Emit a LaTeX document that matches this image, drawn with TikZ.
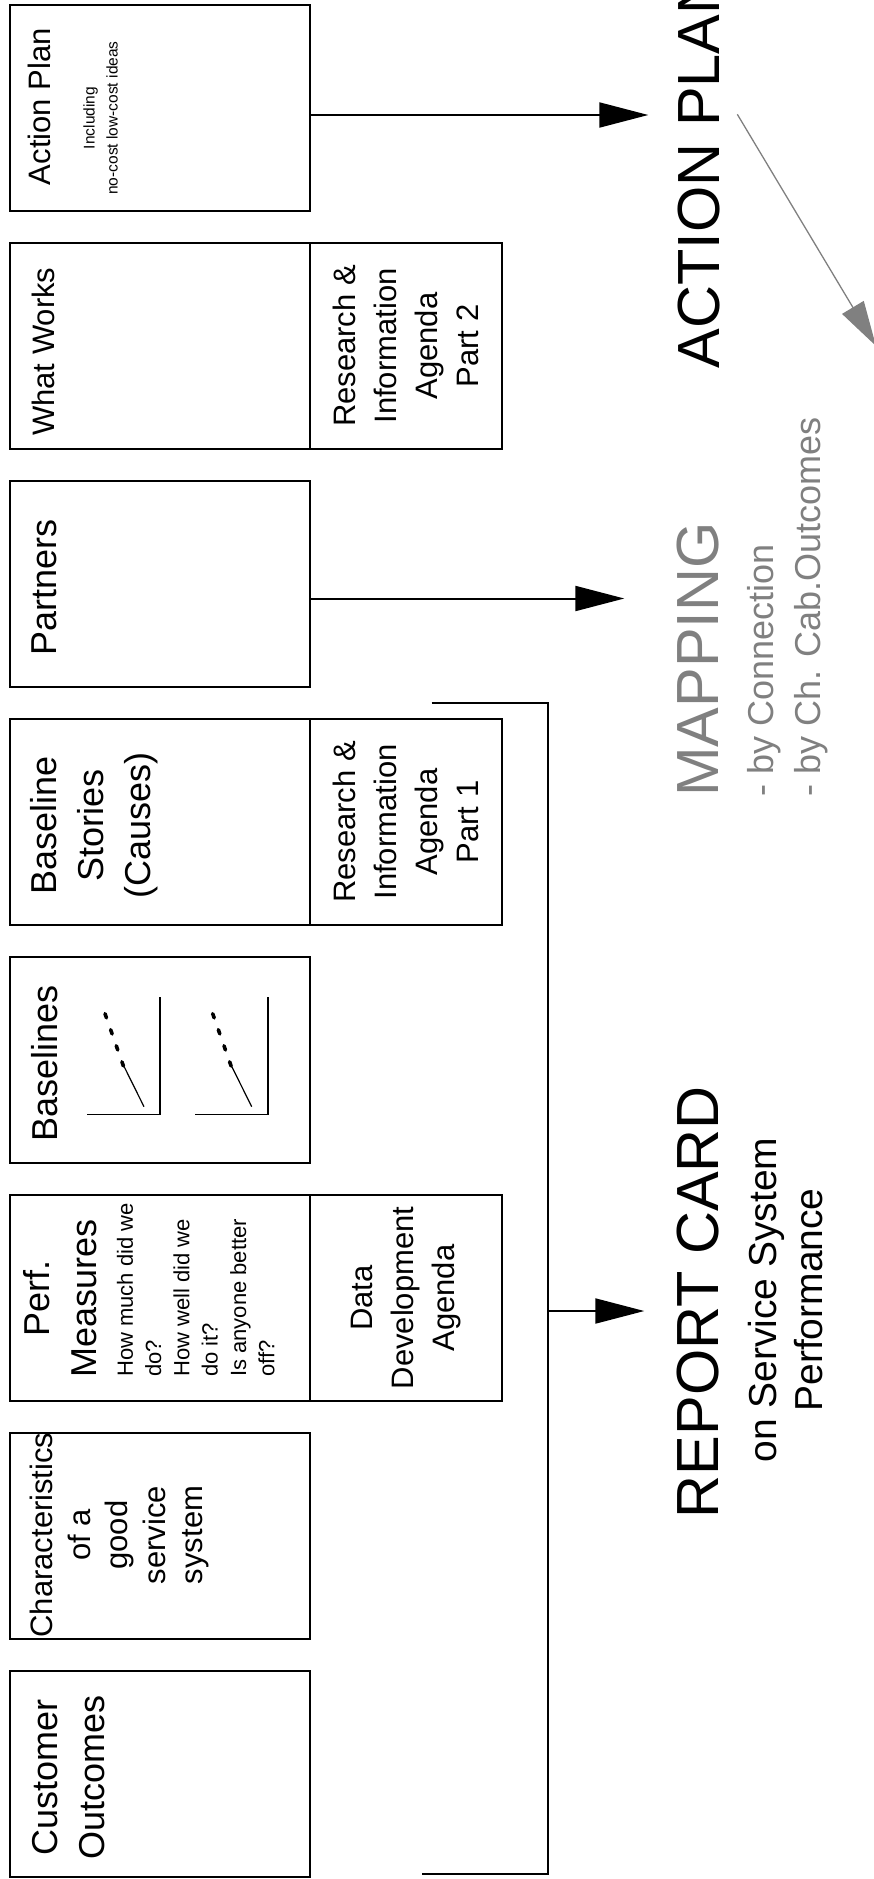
\documentclass[tikz,border=0pt]{standalone}
\usepackage{fontspec}
\setmainfont{Liberation Sans}
\usetikzlibrary{arrows.meta}

\tikzset{
  card/.style={draw, line width=2pt, minimum width=300pt, minimum height=206pt,
    inner sep=0pt, outer sep=0pt},
  agenda/.style={draw, line width=2pt, rotate=90, minimum width=206pt,
    minimum height=192pt, inner sep=0pt, outer sep=0pt, align=center,
    font=\fontsize{31}{41}\selectfont},
  head/.style={rotate=90, anchor=north, inner sep=0pt, align=center,
    font=\fontsize{36}{47}\selectfont},
  headsm/.style={head, font=\fontsize{31}{37.5}\selectfont},
  bigtitle/.style={rotate=90, inner sep=0pt, font=\fontsize{59.5}{70}\selectfont},
  link/.style={line width=2pt, -{Triangle[length=49pt,width=25pt]}},
}

\begin{document}
\begin{tikzpicture}[x=1pt,y=-1pt]

  \useasboundingbox (0,0) rectangle (874,1879);
  \clip (0,0) rectangle (874,1879);

  % Karten
  \node[card] (ap) at (160,108) {};
  \node[card] (ww) at (160,346) {};
  \node[card] (pt) at (160,584) {};
  \node[card] (bs) at (160,822) {};
  \node[card] (bl) at (160,1060) {};
  \node[card] (pm) at (160,1298) {};
  \node[card] (ch) at (160,1536) {};
  \node[card] (co) at (160,1774) {};

  % Agenden
  \node[agenda] (ri2) at (406,346) {Research \&\\Information\\Agenda\\Part 2};
  \node[agenda] (ri1) at (406,822) {Research \&\\Information\\Agenda\\Part 1};
  \node[agenda] (dda) at (406,1298) {Data\\Development\\Agenda};

  % Kartentitel
  \node[headsm] (apt) at ([xshift=18.3pt,yshift=1.3pt]ap.west) {Action Plan};
  \node[rotate=90, anchor=north, inner sep=0pt, align=center,
    font=\fontsize{15.5}{23}\selectfont] (apsub)
    at ([xshift=73.3pt,yshift=-10pt]ap.west) {Including\\no-cost low-cost ideas};
  \node[headsm] (wwt) at ([xshift=21.7pt,yshift=-5.7pt]ww.west) {What Works};
  \node[head] (ptt) at ([xshift=21.7pt,yshift=-3.5pt]pt.west) {Partners};
  \node[head] (bst) at ([xshift=20pt,yshift=-3.3pt]bs.west) {Baseline\\Stories\\(Causes)};
  \node[head] (blt) at ([xshift=21.7pt,yshift=-3.6pt]bl.west) {Baselines};
  \node[head] (pmt) at ([xshift=13.3pt]pm.west) {Perf.\\Measures};
  \node[rotate=90, anchor=north west, inner sep=0pt, align=left,
    font=\fontsize{22}{28.3}\selectfont] (pmq)
    at ([xshift=106.7pt,yshift=-79pt]pm.west)
    {How much did we\\do?\\How well did we\\do it?\\Is anyone better\\off?};
  \node[headsm] (cht) at ([xshift=20pt,yshift=1pt]ch.west)
    {Characteristics\\of a\\good\\service\\system};
  \node[head] (cot) at ([xshift=21.7pt,yshift=-3pt]co.west) {Customer\\Outcomes};

  % Kurven in Baselines
  \foreach \dx in {0,107.7} {
    \draw[line width=1.6pt] (87.3+\dx,1114.3) -- (160+\dx,1114.3) -- (160+\dx,996.7);
    \draw[line width=1.2pt] (144+\dx,1106.7) -- (121.7+\dx,1061.7);
    \draw[line width=3.6pt, line cap=round, dash pattern=on 4.5pt off 12.5pt]
      (123.4+\dx,1066) -- (104.3+\dx,1011.7);
  }

  % Ergebnisse
  \node[bigtitle, anchor=base west] (aplan) at (719,368.3) {ACTION PLAN};
  \node[bigtitle, anchor=base west, text=gray] (map) at (718.3,797) {MAPPING};
  \node[rotate=90, anchor=north west, inner sep=0pt, align=left, text=gray,
    font=\fontsize{36}{47}\selectfont] (mapsub)
    at (747.2,797) {- by Connection\\- by Ch. Cab.Outcomes};
  \node[bigtitle, anchor=base] (rc) at (718.3,1302) {REPORT CARD};
  \node[rotate=90, anchor=north, inner sep=0pt, align=center,
    font=\fontsize{39}{46}\selectfont] (rcsub)
    at (748,1300) {on Service System\\Performance};

  % Pfeile
  \coordinate (aptip) at (648.3,115);
  \coordinate (pttip) at (624.3,598.5);
  \draw[link] ([yshift=-7pt]ap.east) -- (aptip);
  \draw[link] ([yshift=-14.5pt]pt.east) -- (pttip);

  % Klammer zur Report Card
  \coordinate (brtop) at (431.7,703);
  \coordinate (brbot) at (421.7,1874);
  \coordinate (brmid) at (548,1311);
  \coordinate (rctip) at (644.3,1311);
  \draw[line width=2pt] (brtop) -| (brbot -| brmid) -- (brbot);
  \draw[link] (brmid) -- (rctip);

  % grauer Pfeil
  \coordinate (grstart) at (737.3,114.3);
  \coordinate (grtip) at (876,346);
  \draw[gray, line width=1.3pt, -{Triangle[length=45pt,width=25pt]}] (grstart) -- (grtip);

\end{tikzpicture}
\end{document}
